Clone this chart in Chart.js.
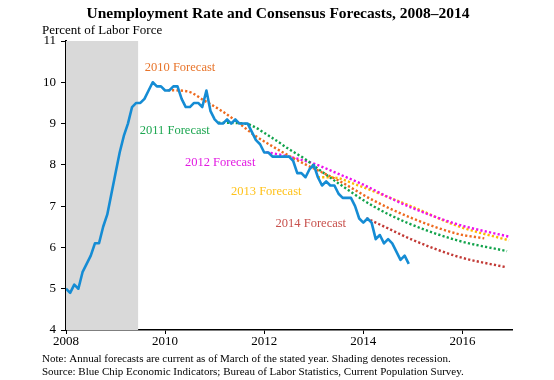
<!DOCTYPE html>
<html><head><meta charset="utf-8">
<script src="https://cdn.jsdelivr.net/npm/chart.js@4.4.0/dist/chart.umd.min.js"></script>
<style>html,body{margin:0;padding:0;background:#fff;}#wrap{width:554px;height:380px;position:relative;}</style>
</head><body><div id="wrap"><canvas id="c" width="554" height="380"></canvas></div>
<script>
const chartTitle = 'Unemployment Rate and Consensus Forecasts, 2008–2014';
const yAxisTitle = 'Percent of Labor Force';
const noteLines = [
  'Note: Annual forecasts are current as of March of the stated year. Shading denotes recession.',
  'Source: Blue Chip Economic Indicators; Bureau of Labor Statistics, Current Population Survey.'
];
const xTickValues = [2008, 2010, 2012, 2014, 2016];
const xTickLabels = ['2008', '2010', '2012', '2014', '2016'];
const yTickValues = [4, 5, 6, 7, 8, 9, 10, 11];
const yTickLabels = ['4', '5', '6', '7', '8', '9', '10', '11'];
const recession = [2008.0, 2009.46];

// Monthly unemployment rate, Jan..Dec of each year
const dataYears = [2008, 2009, 2010, 2011, 2012, 2013, 2014];
const rate2008 = [5.0, 4.9, 5.1, 5.0, 5.4, 5.6, 5.8, 6.1, 6.1, 6.5, 6.8, 7.3];
const rate2009 = [7.8, 8.3, 8.7, 9.0, 9.4, 9.5, 9.5, 9.6, 9.8, 10.0, 9.9, 9.9];
const rate2010 = [9.8, 9.8, 9.9, 9.9, 9.6, 9.4, 9.4, 9.5, 9.5, 9.4, 9.8, 9.3];
const rate2011 = [9.1, 9.0, 9.0, 9.1, 9.0, 9.1, 9.0, 9.0, 9.0, 8.8, 8.6, 8.5];
const rate2012 = [8.3, 8.3, 8.2, 8.2, 8.2, 8.2, 8.2, 8.1, 7.8, 7.8, 7.7, 7.9];
const rate2013 = [8.0, 7.7, 7.5, 7.6, 7.5, 7.5, 7.3, 7.2, 7.2, 7.2, 7.0, 6.7];
const rate2014 = [6.6, 6.7, 6.6, 6.2, 6.3, 6.1, 6.2, 6.1, 5.9, 5.7, 5.8, 5.6];
const ratesByYear = [rate2008, rate2009, rate2010, rate2011, rate2012, rate2013, rate2014];

// Forecast paths (decimal year, percent)
const f2010X = [2010.05, 2010.45, 2010.8, 2011.15, 2011.5, 2011.8, 2012.15, 2012.5, 2012.85, 2013.5, 2014.2, 2015.0, 2015.9, 2016.44];
const f2010Y = [9.81, 9.78, 9.55, 9.30, 9.00, 8.72, 8.46, 8.22, 8.00, 7.62, 7.14, 6.70, 6.33, 6.22];
const f2011X = [2011.07, 2011.6, 2012.15, 2012.5, 2012.85, 2013.0, 2013.5, 2014.2, 2014.9, 2015.9, 2016.9];
const f2011Y = [9.02, 9.00, 8.66, 8.38, 8.12, 7.98, 7.55, 7.00, 6.59, 6.17, 5.91];
const f2012X = [2012.04, 2012.5, 2013.0, 2013.5, 2014.0, 2014.5, 2015.0, 2015.9, 2016.94];
const f2012Y = [8.31, 8.20, 8.03, 7.78, 7.52, 7.22, 6.95, 6.56, 6.26];
const f2013X = [2013.08, 2013.35, 2013.9, 2014.5, 2015.0, 2015.9, 2016.94];
const f2013Y = [7.70, 7.70, 7.50, 7.22, 6.98, 6.52, 6.17];
const f2014X = [2014.06, 2014.5, 2015.0, 2015.9, 2016.88];
const f2014Y = [6.71, 6.46, 6.18, 5.78, 5.52];

const forecastNames = ['2010 Forecast', '2011 Forecast', '2012 Forecast', '2013 Forecast', '2014 Forecast'];

// styling / placement (not data)
const forecastColors = ['#EE6A1E', '#12A34C', '#EE10EE', '#FFB800', '#C23A36'];
const labelColors = ['#E8742A', '#1CA650', '#E21AE2', '#FFC21A', '#C8504C'];
const labelAnchors = [[2009.59, 10.35], [2009.49, 8.82], [2010.40, 8.06], [2011.33, 7.36], [2012.23, 6.57]];

const pts = (xs, ys) => xs.map((x, i) => ({x: x, y: ys[i]}));
const actualPts = [];
dataYears.forEach((yr, k) => ratesByYear[k].forEach((v, m) => actualPts.push({x: yr + m / 12, y: v})));

const forecastSets = [[f2010X, f2010Y], [f2011X, f2011Y], [f2012X, f2012Y], [f2013X, f2013Y], [f2014X, f2014Y]];
const datasets = [];
datasets.push({
  label: 'Recession', data: [{x: recession[0], y: 11}, {x: recession[1], y: 11}],
  fill: 'start', backgroundColor: '#D9D9D9', borderWidth: 0, pointRadius: 0, order: 10
});
forecastSets.forEach((s, i) => datasets.push({
  label: forecastNames[i], data: pts(s[0], s[1]), borderColor: forecastColors[i],
  borderWidth: 2.4, borderDash: [2.2, 2.2], borderCapStyle: 'butt', pointRadius: 0,
  cubicInterpolationMode: 'monotone', fill: false, order: 2
}));
datasets.push({
  label: 'Unemployment rate', data: actualPts, borderColor: '#158CD4', borderWidth: 2.6,
  pointRadius: 0, tension: 0, fill: false, order: 1, borderJoinStyle: 'round'
});

const SERIF = '"Liberation Serif", "Times New Roman", serif';

const textPlugin = {
  id: 'texts',
  afterDraw(chart) {
    const ctx = chart.ctx, xs = chart.scales.x, ys = chart.scales.y;
    ctx.save();
    ctx.fillStyle = '#000';
    ctx.textBaseline = 'alphabetic';
    ctx.textAlign = 'center';
    ctx.font = 'bold 15.5px ' + SERIF;
    ctx.fillText(chartTitle, 278, 17.5);
    ctx.textAlign = 'left';
    ctx.font = '13px ' + SERIF;
    ctx.fillText(yAxisTitle, 42, 34);
    ctx.font = '11px ' + SERIF;
    ctx.fillText(noteLines[0], 42, 361.5);
    ctx.fillText(noteLines[1], 42, 375);
    ctx.font = '12.5px ' + SERIF;
    ctx.textBaseline = 'middle';
    forecastNames.forEach((n, i) => {
      ctx.fillStyle = labelColors[i];
      ctx.fillText(n, xs.getPixelForValue(labelAnchors[i][0]), ys.getPixelForValue(labelAnchors[i][1]));
    });
    ctx.restore();
  }
};

new Chart(document.getElementById('c'), {
  type: 'line',
  data: {datasets: datasets},
  options: {
    responsive: false, animation: false, events: [],
    layout: {padding: {left: 0, right: 42, top: 41, bottom: 0}},
    plugins: {legend: {display: false}, tooltip: {enabled: false}, title: {display: false}},
    scales: {
      x: {
        type: 'linear', min: 2008, max: 2017,
        afterBuildTicks: s => { s.ticks = xTickValues.map(v => ({value: v})); },
        afterFit: s => { s.height = 50; },
        ticks: {callback: v => xTickLabels[xTickValues.indexOf(v)], color: '#000', font: {family: SERIF, size: 13}, padding: 0, maxRotation: 0, autoSkip: false},
        grid: {drawOnChartArea: false, drawTicks: true, tickLength: 4, color: '#000', lineWidth: 1},
        border: {display: true, color: '#000', width: 1.5}
      },
      y: {
        min: 4, max: 11,
        afterBuildTicks: s => { s.ticks = yTickValues.map(v => ({value: v})); },
        afterFit: s => { s.width = 66; },
        ticks: {callback: v => yTickLabels[yTickValues.indexOf(v)], color: '#000', font: {family: SERIF, size: 13}, padding: 5},
        grid: {drawOnChartArea: false, drawTicks: true, tickLength: 5, color: '#000', lineWidth: 1},
        border: {display: true, color: '#000', width: 2}
      }
    }
  },
  plugins: [textPlugin]
});
</script></body></html>
